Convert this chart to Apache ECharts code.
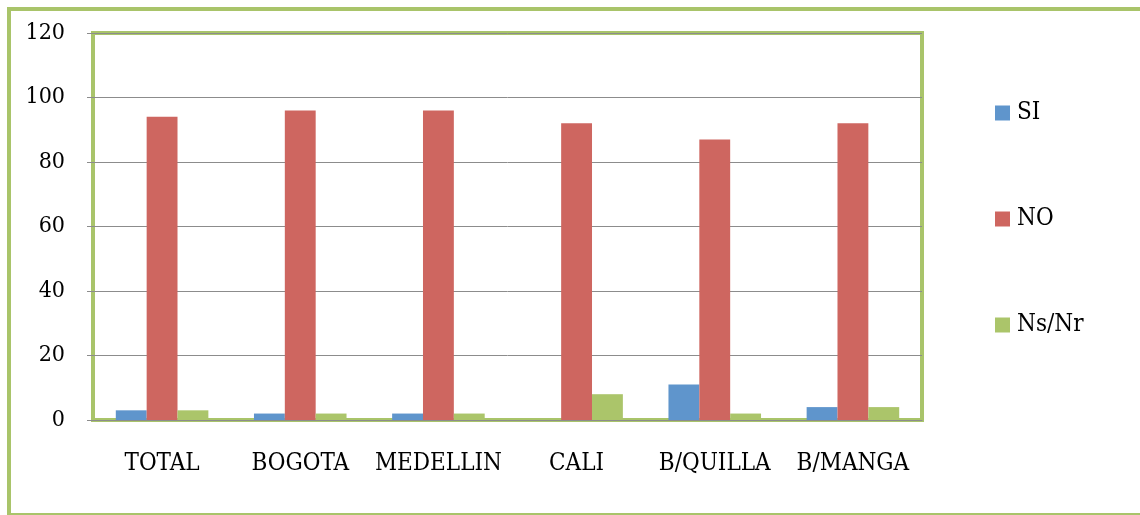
<!DOCTYPE html>
<html>
<head>
<meta charset="utf-8">
<script src="https://cdn.jsdelivr.net/npm/echarts@6/dist/echarts.min.js"></script>
<style>
  html, body { margin: 0; padding: 0; background: #fff; }
  #chart { width: 1140px; height: 515px; }
</style>
</head>
<body>
<div id="chart"></div>
<script>
  const categories = ['TOTAL', 'BOGOTA', 'MEDELLIN', 'CALI', 'B/QUILLA', 'B/MANGA'];
  const siData = [3, 2, 2, 0, 11, 4];
  const noData = [94, 96, 96, 92, 87, 92];
  const nsData = [3, 2, 2, 8, 2, 4];

  const green = '#a9c46a';
  const font = '"DejaVu Serif Condensed", "DejaVu Serif", serif';

  const myChart = echarts.init(document.getElementById('chart'));
  const option = {
    animation: false,
    textStyle: { fontFamily: font },
    // marco exterior
    graphic: [{
      type: 'rect',
      shape: { x: 9, y: 9, width: 1200, height: 506 },
      style: { fill: 'none', stroke: green, lineWidth: 4 },
      z: 0
    }],
    grid: {
      left: 93, right: 218, top: 33, bottom: 95,
      show: true,
      borderColor: green,
      borderWidth: 4
    },
    legend: {
      orient: 'vertical',
      left: 990,
      top: 96,
      itemWidth: 15,
      itemHeight: 15,
      itemGap: 82,
      icon: 'rect',
      textStyle: { fontFamily: font, fontSize: 24, color: '#000', padding: [0, 0, 0, 2] },
      data: ['SI', 'NO', 'Ns/Nr']
    },
    xAxis: {
      type: 'category',
      data: categories,
      axisLine: { lineStyle: { color: '#8c8c8c', width: 1 } },
      axisTick: { length: 6, lineStyle: { color: '#8c8c8c' } },
      axisLabel: { interval: 0, margin: 32, fontSize: 24, color: '#000', fontFamily: font }
    },
    yAxis: {
      type: 'value',
      min: 0,
      max: 120,
      interval: 20,
      axisLine: { show: false },
      axisTick: { show: true, length: 6, lineStyle: { color: '#8c8c8c' } },
      axisLabel: { margin: 28, fontSize: 23, color: '#000', fontFamily: font },
      splitLine: { lineStyle: { color: '#8c8c8c', width: 1 } }
    },
    series: [
      { name: 'SI', type: 'bar', data: siData, barGap: 0, barCategoryGap: '33%', itemStyle: { color: '#5f95cc' } },
      { name: 'NO', type: 'bar', data: noData, barGap: 0, barCategoryGap: '33%', itemStyle: { color: '#ce6660' } },
      { name: 'Ns/Nr', type: 'bar', data: nsData, barGap: 0, barCategoryGap: '33%', itemStyle: { color: '#abc56a' } }
    ]
  };
  myChart.setOption(option);
</script>
</body>
</html>
